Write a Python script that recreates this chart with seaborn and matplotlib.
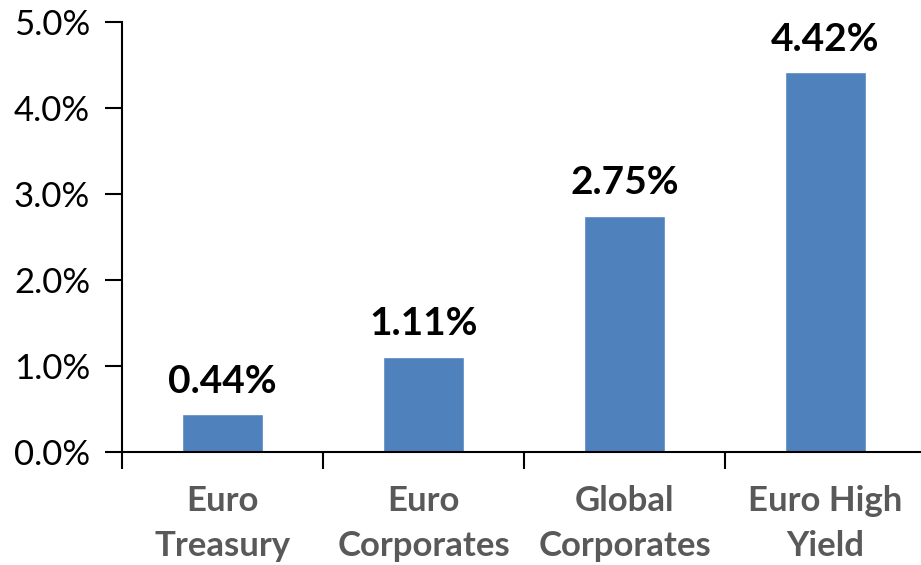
import matplotlib
matplotlib.use("Agg")
import matplotlib.pyplot as plt
from matplotlib.ticker import FixedLocator, FuncFormatter
import seaborn as sns
import pandas as pd

categories = ["Euro\nTreasury", "Euro\nCorporates", "Global\nCorporates", "Euro High\nYield"]
returns_pct = [0.44, 1.11, 2.75, 4.42]
y_ticks = [0.0, 1.0, 2.0, 3.0, 4.0, 5.0]

sns.set_theme(style="white")
plt.rcParams["font.family"] = ["Lato", "DejaVu Sans"]

df = pd.DataFrame({"category": categories, "value": returns_pct})

W, H = 921, 565
fig = plt.figure(figsize=(W / 100, H / 100), dpi=100)
ax = fig.add_axes([122 / W, (H - 452) / H, (921 - 122) / W, (452 - 22) / H])

sns.barplot(data=df, x="category", y="value", color="#4F81BD", width=0.4,
            saturation=1, ax=ax)

ax.set_ylim(0, 5)
ax.set_xlim(-0.5, 3.475)
ax.set_xlabel("")
ax.set_ylabel("")

ax.yaxis.set_major_locator(FixedLocator(y_ticks))
ax.yaxis.set_major_formatter(FuncFormatter(lambda v, p: f"{v:.1f}%"))
ax.tick_params(axis="y", which="major", direction="out", length=12, width=1.5,
               color="black", labelsize=25, labelcolor="black", pad=11, left=True)

# category labels sit between boundary ticks
ax.set_xticks(range(len(categories)))
ax.set_xticklabels(categories, fontsize=25, fontweight="bold", color="#595959",
                   linespacing=1.5)
ax.tick_params(axis="x", which="major", length=0, pad=24)
ax.set_xticks([-0.5, 0.5, 1.5, 2.5], minor=True)
ax.tick_params(axis="x", which="minor", direction="out", length=12, width=1.5,
               color="black", bottom=True)

for side in ["top", "right"]:
    ax.spines[side].set_visible(False)
for side in ["left", "bottom"]:
    ax.spines[side].set_color("black")
    ax.spines[side].set_linewidth(1.5)

ax.bar_label(ax.containers[0], labels=[f"{v:.2f}%" for v in returns_pct],
             padding=11, fontsize=28, fontweight="bold", color="black")

fig.savefig("out.png", dpi=100)
